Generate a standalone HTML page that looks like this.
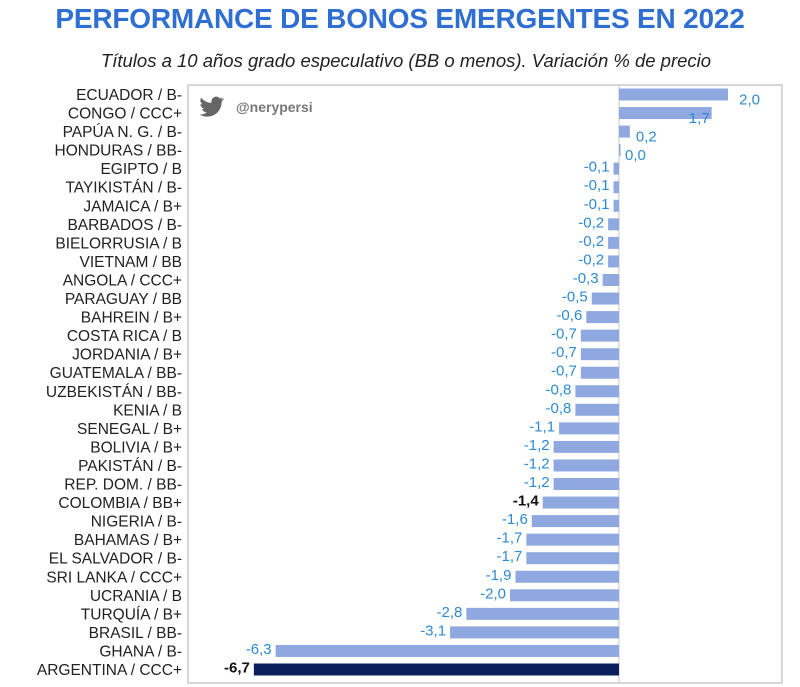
<!DOCTYPE html>
<html><head><meta charset="utf-8"><style>
body{margin:0;background:#fff;width:800px;height:687px;overflow:hidden;font-family:"Liberation Sans",sans-serif}
#title{position:absolute;top:3px;left:0;width:800px;text-align:center;font-weight:bold;font-size:28px;color:#2f6fd3;letter-spacing:-0.2px}
#sub{position:absolute;top:50px;left:6px;width:800px;text-align:center;font-style:italic;font-size:18.5px;color:#222}
svg{position:absolute;left:0;top:0}
</style></head><body>
<div id="title">PERFORMANCE DE BONOS EMERGENTES EN 2022</div>
<div id="sub">Títulos a 10 años grado especulativo (BB o menos). Variación % de precio</div>
<svg id="c" width="800" height="687"></svg>
<script>
const categories=["ECUADOR / B-","CONGO / CCC+","PAPÚA N. G. / B-","HONDURAS / BB-","EGIPTO / B","TAYIKISTÁN / B-","JAMAICA / B+","BARBADOS / B-","BIELORRUSIA / B","VIETNAM / BB","ANGOLA / CCC+","PARAGUAY / BB","BAHREIN / B+","COSTA RICA / B","JORDANIA / B+","GUATEMALA / BB-","UZBEKISTÁN / BB-","KENIA / B","SENEGAL / B+","BOLIVIA / B+","PAKISTÁN / B-","REP. DOM. / BB-","COLOMBIA / BB+","NIGERIA / B-","BAHAMAS / B+","EL SALVADOR / B-","SRI LANKA / CCC+","UCRANIA / B","TURQUÍA / B+","BRASIL / BB-","GHANA / B-","ARGENTINA / CCC+"];
const values=[2.0,1.7,0.2,0.0,-0.1,-0.1,-0.1,-0.2,-0.2,-0.2,-0.3,-0.5,-0.6,-0.7,-0.7,-0.7,-0.8,-0.8,-1.1,-1.2,-1.2,-1.2,-1.4,-1.6,-1.7,-1.7,-1.9,-2.0,-2.8,-3.1,-6.3,-6.7];
const ns="http://www.w3.org/2000/svg",svg=document.getElementById('c');
const x0=619,unit=54.5,yTop=94.5,step=(669.5-94.5)/(categories.length-1),bh=12;
const xs=v=>x0+v*unit, ys=i=>yTop+i*step;
function mk(t,a){const e=document.createElementNS(ns,t);for(const k in a)e.setAttribute(k,a[k]);svg.appendChild(e);return e;}
const fr=mk('rect',{x:188,y:85,width:594,height:598,fill:'none',stroke:'#c8c8c8','stroke-width':1.5});


const ax=mk('line',{x1:x0,x2:x0,y1:85,y2:683,stroke:'#c8c8c8','stroke-width':1});


const tw=mk('path',{d:'M224 99c-1 .5-2 .8-3 .9 1-.6 2-1.6 2.3-2.7-1 .6-2 1-3.2 1.2a5 5 0 0 0-8.6 4.6c-4.2-.2-7.9-2.2-10.4-5.2-1.4 2.4-.6 5.3 1.6 6.7-.8 0-1.6-.3-2.3-.6 0 2.4 1.7 4.4 4 4.9-.7.2-1.5.2-2.3.1.6 2 2.5 3.4 4.7 3.5-2 1.6-4.6 2.4-7.3 2.1 2.2 1.4 4.9 2.2 7.7 2.2 9.3 0 14.4-7.7 14.4-14.4v-.7c1-.7 1.9-1.6 2.5-2.6z',fill:'#666'});


const hd=mk('text',{x:236,y:112,fill:'#777','font-size':14,'font-weight':'bold'});hd.textContent='@nerypersi';


categories.forEach((c,i)=>{
 const v=values[i],y=ys(i),last=i===categories.length-1;
 const l=mk('text',{x:182,y:y+5.5,'text-anchor':'end','font-size':15.5,fill:'#222'});l.textContent=c;
 
 
 const a=Math.min(xs(v),x0),w=Math.max(Math.abs(xs(v)-x0),1.5);
 const r=mk('rect',{x:a,y:y-bh/2,width:w,height:bh,fill:last?'#0b1f5c':'#8fa9e0'});
 
 
 const pos=v>=0;
 const t=mk('text',{x:pos?xs(v)+6:xs(v)-4,y:pos?y+10:y+3,'text-anchor':pos?'start':'end','font-size':15,fill:(last||i===22)?'#111':'#2f8ad6','font-weight':(last||i===22)?'bold':'normal'});
 if(pos&&v>=0.5){t.setAttribute('x',xs(v)+(v>1.8?32:-2));t.setAttribute('text-anchor','end');}
 t.textContent=v.toFixed(1).replace('.',',');
 
 
});
</script>
</body></html>
